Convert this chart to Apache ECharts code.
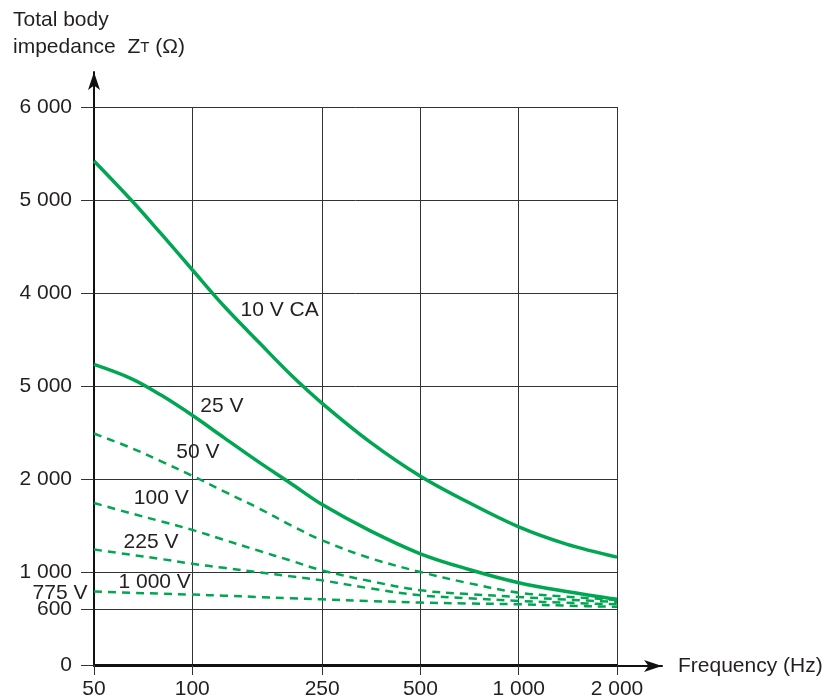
<!DOCTYPE html>
<html>
<head>
<meta charset="utf-8">
<script src="https://cdn.jsdelivr.net/npm/echarts@6/dist/echarts.min.js"></script>
<style>html,body{margin:0;padding:0;background:#fff}#c{width:830px;height:700px}</style>
</head>
<body>
<div id="c"></div>
<script>
// ---- data ----
const freqs  = [50, 65, 80, 100, 125, 160, 200, 250, 350, 500, 700, 1000, 1400, 2000];
const z10V   = [5420, 5000, 4643, 4250, 3860, 3470, 3124, 2814, 2400, 2030, 1750, 1485, 1300, 1160];
const z25V   = [3232, 3080, 2905, 2685, 2445, 2181, 1955, 1725, 1445, 1196, 1030, 885, 790, 706];
const z50V   = [2489, 2334, 2193, 2035, 1867, 1684, 1505, 1340, 1150, 1000, 881, 778, 735, 700];
const z100V  = [1742, 1630, 1546, 1453, 1346, 1228, 1123, 1017, 903, 803, 763, 731, 703, 678];
const z225V  = [1242, 1185, 1140, 1089, 1045, 997, 954, 910, 824, 749, 718, 689, 669, 653];
const z1000V = [790, 777, 767, 757, 745, 731, 718, 706, 688, 671, 661, 653, 638, 625];
const seriesNames = ['10 V CA', '25 V', '50 V', '100 V', '225 V', '1 000 V'];
const xTickValues = [50, 100, 250, 500, 1000, 2000];
const xTickLabels = ['50', '100', '250', '500', '1 000', '2 000'];
const yLabelValues = [0, 600, 1000, 2000, 3000, 4000, 5000, 6000];
const yLabelTexts  = ['0', '600', '1 000', '2 000', '5 000', '4 000', '5 000', '6 000'];
const yTickValues  = [0, 600, 1000, 2000, 3000, 4000, 5000, 6000];
const ySplitValues = [600, 1000, 2000, 3000, 4000, 5000, 6000];
// curve label anchors [freq, impedance]
const labelAnchors = [[140, 3820], [105.5, 2781], [89, 2289], [66, 1793], [61.4, 1321], [59.2, 892]];
// start-voltage annotation of the lowest curve
const startNote = { text: '775 V', freq: 50, value: 775 };

const GREEN = '#00a651';
const TXT = '#231f20';
const FONT = '"Liberation Sans", Arial, sans-serif';
const FS = 21;

function pairs(vals) { return freqs.map((f, i) => [f, vals[i]]); }
const allVals = [z10V, z25V, z50V, z100V, z225V, z1000V];
const solid = [true, true, false, false, false, false];

const series = allVals.map((vals, i) => {
  const mp = [{ coord: labelAnchors[i] }];
  if (i === allVals.length - 1) {
    mp.push({
      coord: [startNote.freq, startNote.value],
      label: { show: true, position: 'left', distance: 6, formatter: startNote.text,
               color: TXT, fontSize: FS, fontFamily: FONT }
    });
  }
  return {
    type: 'line',
    name: seriesNames[i],
    xAxisIndex: 0, yAxisIndex: 0,
    data: pairs(vals),
    smooth: 0.35,
    symbol: 'none',
    z: 3,
    lineStyle: solid[i]
      ? { color: GREEN, width: 3.5 }
      : { color: GREEN, width: 2.5, type: [8, 6] },
    markPoint: {
      symbol: 'circle', symbolSize: 1,
      itemStyle: { color: 'rgba(0,0,0,0)' },
      label: { show: true, position: 'right', distance: 0, color: TXT, fontSize: FS, fontFamily: FONT,
               formatter: seriesNames[i] },
      data: mp
    }
  };
});

const chart = echarts.init(document.getElementById('c'), null, { renderer: 'canvas' });
chart.setOption({
  animation: false,
  backgroundColor: '#fff',
  title: {
    left: 8, top: 2,
    text: 'Total body\nimpedance  Z{s|T} (Ω)',
    textStyle: {
      fontFamily: FONT, fontSize: FS, fontWeight: 'normal', color: TXT, lineHeight: 27,
      rich: { s: { fontFamily: FONT, fontSize: 15, color: TXT, lineHeight: 27 } }
    }
  },
  grid: [
    { left: 94, right: 213, top: 107, bottom: 34 },
    { left: 94, right: 168, top: 72, bottom: 34 }
  ],
  xAxis: [
    {
      gridIndex: 0, type: 'log', logBase: 10, min: 50, max: 2000,
      axisLine: { show: true, lineStyle: { color: '#111', width: 2 } },
      axisTick: { show: true, length: 10, customValues: xTickValues, lineStyle: { color: '#333', width: 1 } },
      splitLine: { show: true, customValues: xTickValues, lineStyle: { color: '#333', width: 1 } },
      minorTick: { show: false }, minorSplitLine: { show: false },
      axisLabel: {
        customValues: xTickValues, margin: 14, color: TXT, fontSize: FS, fontFamily: FONT,
        formatter: v => { const k = xTickValues.findIndex(t => Math.abs(t - v) < 1e-6); return k >= 0 ? xTickLabels[k] : ''; }
      }
    },
    {
      gridIndex: 1, type: 'value', min: 0, max: 1,
      name: 'Frequency (Hz)', nameLocation: 'end', nameGap: 16,
      nameTextStyle: { fontFamily: FONT, fontSize: FS, color: TXT },
      axisLine: { show: true, symbol: ['none', 'arrow'], symbolSize: [9, 18], lineStyle: { color: '#111', width: 2 } },
      axisTick: { show: false }, axisLabel: { show: false }, splitLine: { show: false }
    }
  ],
  yAxis: [
    {
      gridIndex: 0, type: 'value', min: 0, max: 6000,
      axisLine: { show: true, lineStyle: { color: '#111', width: 2 } },
      axisTick: { show: true, length: 13, customValues: yTickValues, lineStyle: { color: '#333', width: 1 } },
      splitLine: { show: true, customValues: ySplitValues, lineStyle: { color: '#333', width: 1 } },
      axisLabel: {
        customValues: yLabelValues, margin: 22, color: TXT, fontSize: FS, fontFamily: FONT,
        formatter: v => { const k = yLabelValues.indexOf(v); return k >= 0 ? yLabelTexts[k] : ''; }
      }
    },
    {
      gridIndex: 1, type: 'value', min: 0, max: 1,
      axisLine: { show: true, symbol: ['none', 'arrow'], symbolSize: [9, 18], lineStyle: { color: '#111', width: 2 } },
      axisTick: { show: false }, axisLabel: { show: false }, splitLine: { show: false }
    }
  ],
  series: series
});
</script>
</body>
</html>
